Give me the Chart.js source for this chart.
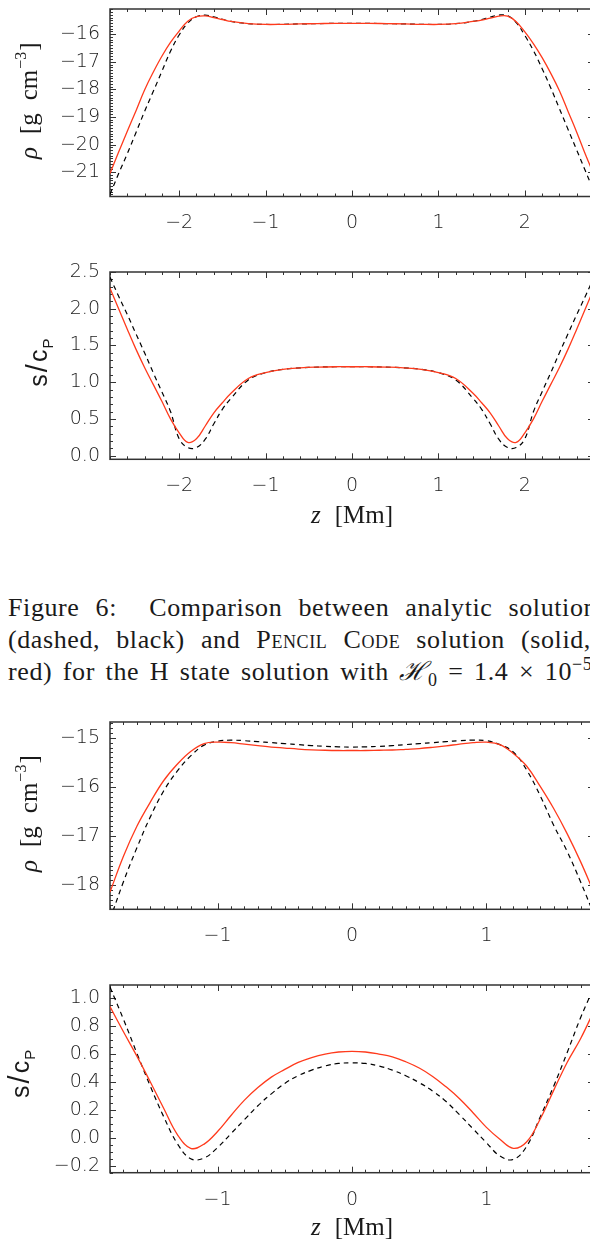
<!DOCTYPE html>
<html>
<head>
<meta charset="utf-8">
<script src="https://cdn.jsdelivr.net/npm/chart.js@4.4.1/dist/chart.umd.min.js"></script>
<style>
  html, body { margin: 0; padding: 0; background: #fff; }
  body { width: 590px; height: 1241px; overflow: hidden; position: relative; }
  .panel { position: absolute; left: 0; width: 600px; }
  .panel canvas { display: block; }
  .caption {
    position: absolute; left: 8px; top: 592px;
    font-family: "Liberation Serif", "DejaVu Serif", serif;
    font-size: 26px; line-height: 32px; color: #1a1a1a; letter-spacing: 0.6px;
  }
  .caption div { white-space: nowrap; }
  .sc { font-variant: small-caps; }
  .caption sub, .caption sup { font-size: 18px; line-height: 0; }
</style>
</head>
<body>

<div class="panel" style="top:0px;height:240px"><canvas id="rhoOuter" width="600" height="240"></canvas></div>
<div class="panel" style="top:250px;height:290px"><canvas id="sOuter" width="600" height="290"></canvas></div>

<div class="caption">
  <div style="word-spacing:9px">Figure 6:&nbsp; Comparison between analytic solution</div>
  <div style="word-spacing:9px">(dashed, black) and <span class="sc">Pencil Code</span> solution (solid,</div>
  <div style="word-spacing:3.5px">red) for the H state solution with <i>ℋ</i><sub>0</sub> = 1.4 × 10<sup>−5</sup></div>
</div>

<div class="panel" style="top:700px;height:250px"><canvas id="rhoInner" width="600" height="250"></canvas></div>
<div class="panel" style="top:960px;height:281px"><canvas id="sInner" width="600" height="281"></canvas></div>

<script>
// ---- first case: wide domain, z in Mm ----
const zOuter = [-2.8,-2.7,-2.6,-2.5,-2.4,-2.3,-2.2,-2.1,-2.0,-1.9,-1.8,-1.7,-1.6,-1.5,-1.4,
                -1.2,-1.0,-0.8,-0.6,-0.4,-0.2,0,0.2,0.4,0.6,0.8,1.0,1.2,
                1.4,1.5,1.6,1.7,1.8,1.9,2.0,2.1,2.2,2.3,2.4,2.5,2.6,2.7,2.8];
// log10 density [g cm^-3]
const rhoAnalyticOuter = [-21.8,-21.05,-20.33,-19.57,-18.8,-18.08,-17.35,-16.62,-16.03,-15.6,-15.37,-15.31,-15.37,-15.46,-15.54,
                          -15.62,-15.65,-15.645,-15.63,-15.62,-15.61,-15.61,-15.61,-15.62,-15.63,-15.645,-15.65,-15.62,
                          -15.54,-15.47,-15.38,-15.31,-15.33,-15.58,-16.05,-16.6,-17.25,-17.95,-18.7,-19.45,-20.2,-20.95,-21.7];
const rhoPencilOuter   = [-21.05,-20.27,-19.52,-18.78,-18.02,-17.38,-16.80,-16.30,-15.89,-15.53,-15.37,-15.34,-15.40,-15.47,-15.54,
                          -15.62,-15.65,-15.645,-15.63,-15.62,-15.61,-15.61,-15.61,-15.62,-15.63,-15.645,-15.65,-15.62,
                          -15.54,-15.49,-15.42,-15.35,-15.35,-15.55,-15.92,-16.35,-16.85,-17.42,-18.05,-18.8,-19.55,-20.35,-21.1];
// entropy s / c_P
const sAnalyticOuter = [2.43,2.17,1.92,1.66,1.40,1.13,0.87,0.60,0.23,0.11,0.11,0.22,0.43,0.63,0.78,
                        1.03,1.13,1.175,1.195,1.205,1.21,1.21,1.21,1.205,1.195,1.175,1.13,1.03,
                        0.78,0.63,0.43,0.22,0.11,0.11,0.23,0.60,0.87,1.13,1.40,1.66,1.92,2.17,2.43];
const sPencilOuter   = [2.28,2.0,1.72,1.45,1.20,0.97,0.74,0.50,0.31,0.18,0.23,0.40,0.58,0.72,0.85,
                        1.05,1.13,1.175,1.195,1.205,1.21,1.21,1.21,1.205,1.195,1.175,1.13,1.05,
                        0.85,0.72,0.58,0.40,0.23,0.18,0.31,0.50,0.74,0.97,1.20,1.45,1.72,2.0,2.28];

// ---- second case: narrow domain ----
const zInner = [-1.8,-1.7,-1.6,-1.5,-1.4,-1.3,-1.2,-1.1,-1.0,-0.9,-0.8,-0.7,-0.6,-0.5,-0.4,-0.3,-0.2,-0.1,0,
                0.1,0.2,0.3,0.4,0.5,0.6,0.7,0.8,0.9,1.0,1.1,1.2,1.3,1.4,1.5,1.6,1.7,1.8];
const rhoAnalyticInner = [-18.7,-17.93,-17.24,-16.61,-16.08,-15.68,-15.37,-15.15,-15.07,-15.05,-15.06,-15.08,-15.10,-15.12,-15.14,-15.16,-15.175,-15.185,-15.19,
                          -15.185,-15.175,-15.16,-15.14,-15.12,-15.10,-15.08,-15.06,-15.05,-15.06,-15.14,-15.29,-15.66,-16.18,-16.78,-17.31,-17.93,-18.6];
const rhoPencilInner   = [-18.14,-17.41,-16.80,-16.31,-15.87,-15.54,-15.28,-15.12,-15.09,-15.10,-15.13,-15.16,-15.19,-15.21,-15.23,-15.245,-15.255,-15.26,-15.26,
                          -15.26,-15.255,-15.25,-15.235,-15.22,-15.195,-15.165,-15.13,-15.10,-15.09,-15.14,-15.32,-15.58,-15.99,-16.44,-16.95,-17.52,-18.15];
const sAnalyticInner = [1.08,0.85,0.606,0.37,0.15,-0.04,-0.15,-0.145,-0.07,0.03,0.13,0.23,0.315,0.39,0.445,0.485,0.515,0.533,0.537,
                        0.533,0.515,0.485,0.445,0.395,0.335,0.26,0.165,0.065,-0.035,-0.13,-0.155,-0.06,0.15,0.37,0.61,0.86,1.08];
const sPencilInner   = [0.94,0.76,0.585,0.40,0.21,0.025,-0.075,-0.045,0.045,0.16,0.27,0.36,0.435,0.49,0.54,0.575,0.60,0.615,0.62,
                        0.615,0.60,0.58,0.545,0.50,0.44,0.365,0.28,0.18,0.075,-0.01,-0.075,-0.028,0.135,0.34,0.54,0.71,0.91];

// ---- tick labels ----
const xTicksOuter = [-2, -1, 0, 1, 2];
const xTicksInner = [-1, 0, 1];
const rhoTicksOuter = [-21, -20, -19, -18, -17, -16];
const sTicksOuter = [0, 0.5, 1.0, 1.5, 2.0, 2.5];
const rhoTicksInner = [-18, -17, -16, -15];
const sTicksInner = [-0.2, 0, 0.2, 0.4, 0.6, 0.8, 1.0];

const RED = '#ff3a1c';
const AXIS = '#333333';
const TEXT = '#1a1a1a';
const SANS = '"Liberation Sans", Arial, sans-serif';
const TICKFONT = '"DejaVu Sans", "Liberation Sans", sans-serif';
const SERIF = '"Liberation Serif", "DejaVu Serif", serif';

function minusSign(str) { return str.replace('-', '\u2212'); }

function minorValues(min, max, step) {
  const out = [];
  const k0 = Math.ceil(min / step - 1e-9), k1 = Math.floor(max / step + 1e-9);
  for (let k = k0; k <= k1; k++) out.push(k * step);
  return out;
}

// inward ticks on all four sides plus the frame, in the classic IDL look
const framePlugin = {
  id: 'frame',
  beforeDatasetsDraw(chart, args, o) {
    const { ctx, chartArea: a, scales: { x, y } } = chart;
    ctx.save();
    ctx.strokeStyle = AXIS;
    ctx.lineWidth = 1;
    ctx.beginPath();
    const isMajor = (v, majors) => majors.some(m => Math.abs(m - v) < 1e-6);
    minorValues(x.min, x.max, o.xMinor).forEach(v => {
      const len = isMajor(v, o.xMajor) ? 6 : 3;
      const px = Math.round(x.getPixelForValue(v)) + 0.5;
      ctx.moveTo(px, a.bottom); ctx.lineTo(px, a.bottom - len);
      ctx.moveTo(px, a.top); ctx.lineTo(px, a.top + len);
    });
    minorValues(y.min, y.max, o.yMinor).forEach(v => {
      const len = isMajor(v, o.yMajor) ? 6 : 3;
      const py = Math.round(y.getPixelForValue(v)) + 0.5;
      ctx.moveTo(a.left, py); ctx.lineTo(a.left + len, py);
      ctx.moveTo(a.right, py); ctx.lineTo(a.right - len, py);
    });
    ctx.stroke();
    ctx.lineWidth = 1.5;
    ctx.strokeRect(a.left, a.top, a.right - a.left, a.bottom - a.top);
    ctx.restore();
  }
};

// axis titles with italics, sub- and superscripts
function drawRich(ctx, segs, cx, cy, rotated) {
  ctx.save();
  ctx.translate(cx, cy);
  if (rotated) ctx.rotate(-Math.PI / 2);
  let total = 0;
  segs.forEach(s => {
    ctx.font = s.font;
    s.w = ctx.measureText(s.text).width;
    total += s.w + (s.gap || 0);
  });
  let x = -total / 2;
  ctx.fillStyle = TEXT;
  ctx.textBaseline = 'alphabetic';
  segs.forEach(s => {
    x += s.gap || 0;
    ctx.font = s.font;
    ctx.fillText(s.text, x, (s.dy || 0));
    x += s.w;
  });
  ctx.restore();
}

const titlePlugin = {
  id: 'titles',
  afterDraw(chart, args, o) {
    const ctx = chart.ctx;
    const a = chart.chartArea;
    if (o.y) drawRich(ctx, o.y.segs, o.y.cx, (a.top + a.bottom) / 2 + (o.y.dyc || 0), true);
    if (o.x) drawRich(ctx, o.x.segs, (a.left + a.right) / 2, o.x.cy, false);
  }
};

const rhoTitle = {
  cx: 37, dyc: -2,
  segs: [
    { text: 'ρ', font: `italic 25px ${SERIF}` },
    { text: '[g', font: `25px ${SERIF}`, gap: 13 },
    { text: 'cm', font: `25px ${SERIF}`, gap: 13 },
    { text: '−3', font: `16px ${SERIF}`, dy: -11, gap: 1 },
    { text: ']', font: `25px ${SERIF}`, gap: 1 }
  ]
};
function sTitle(cx, dyc) {
  return {
    cx, dyc,
    segs: [
      { text: 's', font: `25px ${SANS}` },
      { text: '/', font: `29px ${SANS}`, gap: 2 },
      { text: 'c', font: `25px ${SANS}`, gap: 2 },
      { text: 'P', font: `15px ${SANS}`, dy: 6, gap: 1 }
    ]
  };
}
function zTitle(cy) {
  return {
    cy,
    segs: [
      { text: 'z', font: `italic 25px ${SERIF}` },
      { text: '[Mm]', font: `25px ${SERIF}`, gap: 14 }
    ]
  };
}

function makePanel(id, p) {
  const toPts = vals => p.z.map((v, i) => ({ x: v, y: vals[i] }));
  return new Chart(document.getElementById(id), {
    type: 'line',
    data: {
      datasets: [
        { data: toPts(p.pencil), borderColor: RED, borderWidth: 1.3, pointRadius: 0,
          tension: 0.4, fill: false, order: 0 },
        { data: toPts(p.analytic), borderColor: '#000', borderWidth: 1.2, borderDash: [5, 4],
          pointRadius: 0, tension: 0.4, fill: false, order: 1 }
      ]
    },
    options: {
      responsive: false,
      animation: false,
      devicePixelRatio: 1,
      layout: { padding: { top: p.padTop, right: 6, left: 0, bottom: 0 } },
      plugins: {
        legend: { display: false },
        tooltip: { enabled: false },
        frame: { xMinor: p.xMinor, yMinor: p.yMinor, xMajor: p.xTicks, yMajor: p.yTicks },
        titles: { y: p.yTitle, x: p.xTitle }
      },
      scales: {
        x: {
          type: 'linear', position: 'bottom', min: p.xMin, max: p.xMax,
          grid: { display: false, drawTicks: false },
          border: { display: false },
          afterBuildTicks: s => { s.ticks = p.xTicks.map(v => ({ value: v })); },
          afterFit: s => { s.height = p.xAxisH; s.paddingLeft = 0; s.paddingRight = 0; },
          ticks: {
            padding: p.xPad, color: TEXT, maxRotation: 0, autoSkip: false,
            font: { family: TICKFONT, size: 19, weight: 300 },
            callback: v => minusSign(String(v))
          }
        },
        y: {
          type: 'linear', position: 'left', min: p.yMin, max: p.yMax,
          grid: { display: false, drawTicks: false },
          border: { display: false },
          afterBuildTicks: s => { s.ticks = p.yTicks.map(v => ({ value: v })); },
          afterFit: s => { s.width = 110; s.paddingTop = 0; s.paddingBottom = 0; },
          ticks: {
            padding: 10, color: TEXT, autoSkip: false,
            font: { family: TICKFONT, size: 19, weight: 300 },
            callback: v => minusSign(Number(v).toFixed(p.yDec))
          }
        }
      }
    },
    plugins: [framePlugin, titlePlugin]
  });
}

makePanel('rhoOuter', {
  z: zOuter, analytic: rhoAnalyticOuter, pencil: rhoPencilOuter,
  xMin: -2.8, xMax: 2.8, xTicks: xTicksOuter, xMinor: 0.2,
  yMin: -21.88, yMax: -15.09, yTicks: rhoTicksOuter, yMinor: 0.1, yDec: 0,
  padTop: 9, xAxisH: 43.5, xPad: 15,
  yTitle: rhoTitle, xTitle: null
});
makePanel('sOuter', {
  z: zOuter, analytic: sAnalyticOuter, pencil: sPencilOuter,
  xMin: -2.8, xMax: 2.8, xTicks: xTicksOuter, xMinor: 0.2,
  yMin: -0.05, yMax: 2.5, yTicks: sTicksOuter, yMinor: 0.1, yDec: 1,
  padTop: 22, xAxisH: 80.7, xPad: 15,
  yTitle: sTitle(47, -3), xTitle: zTitle(273)
});
makePanel('rhoInner', {
  z: zInner, analytic: rhoAnalyticInner, pencil: rhoPencilInner,
  xMin: -1.8, xMax: 1.8, xTicks: xTicksInner, xMinor: 0.1,
  yMin: -18.49, yMax: -14.68, yTicks: rhoTicksInner, yMinor: 0.1, yDec: 0,
  padTop: 22, xAxisH: 40.7, xPad: 15,
  yTitle: rhoTitle, xTitle: null
});
makePanel('sInner', {
  z: zInner, analytic: sAnalyticInner, pencil: sPencilInner,
  xMin: -1.8, xMax: 1.8, xTicks: xTicksInner, xMinor: 0.1,
  yMin: -0.25, yMax: 1.095, yTicks: sTicksInner, yMinor: 0.05, yDec: 1,
  padTop: 25, xAxisH: 68.3, xPad: 16,
  yTitle: sTitle(29, -5), xTitle: zTitle(275)
});
</script>
</body>
</html>
